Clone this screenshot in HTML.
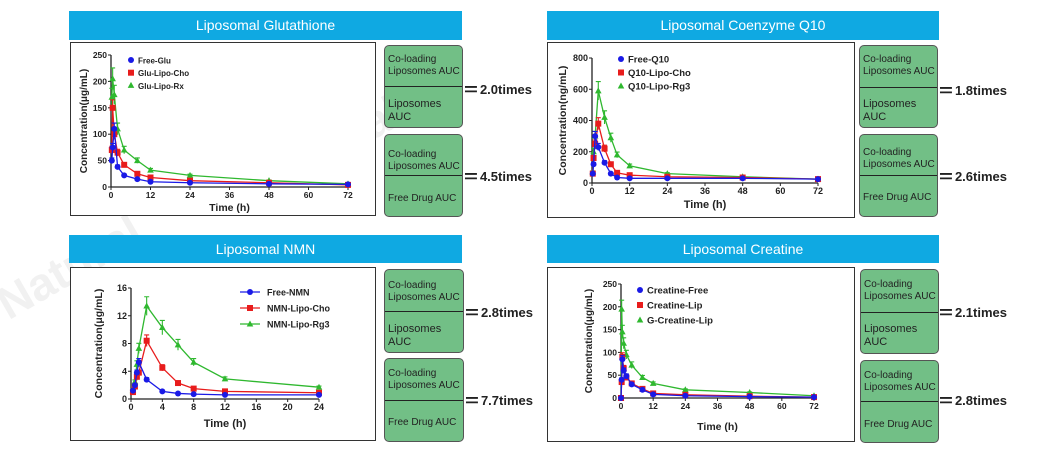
<!DOCTYPE html>
<html><head><meta charset="utf-8">
<style>
body{margin:0;width:1053px;height:451px;background:#fff;position:relative;overflow:hidden;font-family:"Liberation Sans",sans-serif}
.hdr{position:absolute;background:#0fa9e2;color:#fff;font-size:14px;text-align:center;line-height:29px}
.frame{position:absolute;border:1px solid #333;box-sizing:border-box;background:#fff}
.box{position:absolute;background:#72bf86;border:1px solid #555;border-radius:5px;box-sizing:border-box;font-size:10px;color:#222;line-height:12px}
.box .t{position:absolute;left:3px}
.box .d{position:absolute;left:0;right:0;height:0;border-top:1.5px solid #222}
.eq{position:absolute;font-weight:bold;font-size:13px;color:#222;white-space:nowrap}
.eq b{font-size:17px;display:inline-block;transform:scaleX(1.4);margin-right:4px;vertical-align:-1px}
.wm{position:absolute;color:rgba(200,200,200,0.25);font-size:46px;font-weight:bold;transform:rotate(-30deg)}
svg{position:absolute;left:0;top:0}
</style></head><body>
<div class="wm" style="left:250px;top:120px">Natural</div>
<div class="wm" style="left:700px;top:80px">Natural</div>
<div class="wm" style="left:-10px;top:240px">Natural</div>

<div class="hdr" style="left:69px;top:11px;width:393px;height:29px">Liposomal Glutathione</div>
<div class="hdr" style="left:547px;top:11px;width:392px;height:29px">Liposomal Coenzyme Q10</div>
<div class="hdr" style="left:69px;top:235px;width:393px;height:28px;line-height:28px">Liposomal NMN</div>
<div class="hdr" style="left:547px;top:235px;width:392px;height:28px;line-height:28px">Liposomal Creatine</div>

<div class="frame" style="left:70px;top:42px;width:306px;height:174px"></div>
<div class="frame" style="left:547px;top:42px;width:308px;height:176px"></div>
<div class="frame" style="left:70px;top:267px;width:306px;height:174px"></div>
<div class="frame" style="left:547px;top:267px;width:308px;height:175px"></div>

<div class="box" style="left:384px;top:45px;width:79px;height:83px"><div class="t" style="top:8px">Co-loading<br>Liposomes AUC</div><div class="d" style="top:40px"></div><div class="t" style="top:52px;font-size:11px;line-height:13px">Liposomes<br>AUC</div></div>
<div class="eq" style="left:466px;top:80px"><b>=</b>2.0times</div>
<div class="box" style="left:384px;top:134px;width:79px;height:83px"><div class="t" style="top:14px">Co-loading<br>Liposomes AUC</div><div class="d" style="top:40px"></div><div class="t" style="top:58px">Free Drug AUC</div></div>
<div class="eq" style="left:466px;top:167px"><b>=</b>4.5times</div>

<div class="box" style="left:859px;top:45px;width:79px;height:83px"><div class="t" style="top:8px">Co-loading<br>Liposomes AUC</div><div class="d" style="top:41px"></div><div class="t" style="top:52px;font-size:11px;line-height:13px">Liposomes<br>AUC</div></div>
<div class="eq" style="left:941px;top:81px"><b>=</b>1.8times</div>
<div class="box" style="left:859px;top:134px;width:79px;height:83px"><div class="t" style="top:12px">Co-loading<br>Liposomes AUC</div><div class="d" style="top:40px"></div><div class="t" style="top:57px">Free Drug AUC</div></div>
<div class="eq" style="left:941px;top:167px"><b>=</b>2.6times</div>

<div class="box" style="left:384px;top:269px;width:80px;height:84px"><div class="t" style="top:10px">Co-loading<br>Liposomes AUC</div><div class="d" style="top:41px"></div><div class="t" style="top:53px;font-size:11px;line-height:13px">Liposomes<br>AUC</div></div>
<div class="eq" style="left:467px;top:303px"><b>=</b>2.8times</div>
<div class="box" style="left:384px;top:358px;width:80px;height:84px"><div class="t" style="top:9px">Co-loading<br>Liposomes AUC</div><div class="d" style="top:41px"></div><div class="t" style="top:58px">Free Drug AUC</div></div>
<div class="eq" style="left:467px;top:391px"><b>=</b>7.7times</div>

<div class="box" style="left:860px;top:269px;width:79px;height:85px"><div class="t" style="top:9px">Co-loading<br>Liposomes AUC</div><div class="d" style="top:42px"></div><div class="t" style="top:53px;font-size:11px;line-height:13px">Liposomes<br>AUC</div></div>
<div class="eq" style="left:941px;top:303px"><b>=</b>2.1times</div>
<div class="box" style="left:860px;top:360px;width:79px;height:83px"><div class="t" style="top:9px">Co-loading<br>Liposomes AUC</div><div class="d" style="top:40px"></div><div class="t" style="top:58px">Free Drug AUC</div></div>
<div class="eq" style="left:941px;top:391px"><b>=</b>2.8times</div>

<svg id="chart" width="1053" height="451"></svg>

<script>
// Glutathione
const gluTimes=[0.25,0.5,1,2,4,8,12,24,48,72];
const gluFree=[50,75,110,38,22,15,10,8,6,5];
const gluCho=[70,150,100,65,42,25,18,12,8,4];
const gluRx=[170,205,175,110,70,50,32,22,12,6];
const gluXTicks=[0,12,24,36,48,60,72];
const gluYTicks=[0,50,100,150,200,250];
const gluNames=["Free-Glu","Glu-Lipo-Cho","Glu-Lipo-Rx"];
// Q10
const q10Times=[0.25,0.5,1,2,4,6,8,12,24,48,72];
const q10Free=[60,120,300,230,130,60,35,30,30,30,25];
const q10Cho=[60,160,250,380,220,120,65,50,40,35,25];
const q10Rg3=[70,200,300,590,420,290,180,110,60,40,25];
const q10XTicks=[0,12,24,36,48,60,72];
const q10YTicks=[0,200,400,600,800];
const q10Names=["Free-Q10","Q10-Lipo-Cho","Q10-Lipo-Rg3"];
// NMN
const nmnTimes=[0.25,0.5,0.75,1,2,4,6,8,12,24];
const nmnFree=[1.2,2,3.8,5.3,2.8,1.1,0.8,0.7,0.6,0.6];
const nmnCho=[1.0,1.8,3.2,3.8,8.4,4.5,2.3,1.5,1.1,0.9];
const nmnRg3=[1.2,2.5,5,7.3,13.4,10.3,7.8,5.3,2.9,1.7];
const nmnXTicks=[0,4,8,12,16,20,24];
const nmnYTicks=[0,4,8,12,16];
const nmnNames=["Free-NMN","NMN-Lipo-Cho","NMN-Lipo-Rg3"];
// Creatine
const crTimes=[0,0.25,0.5,1,2,4,8,12,24,48,72];
const crFree=[0,40,85,60,48,30,18,8,5,3,2];
const crLip=[0,35,90,65,45,32,20,10,7,4,2];
const crG=[0,195,145,120,95,72,45,32,18,12,5];
const crXTicks=[0,12,24,36,48,60,72];
const crYTicks=[0,50,100,150,200,250];
const crNames=["Creatine-Free","Creatine-Lip","G-Creatine-Lip"];

const colors=["#1a1ae6","#e81c1c","#2fb82f"];
const NS="http://www.w3.org/2000/svg";
const svg=document.getElementById('chart');
function mk(tag,attrs,parent){const e=document.createElementNS(NS,tag);for(const k in attrs)e.setAttribute(k,attrs[k]);(parent||svg).appendChild(e);return e;}
function marker(g,kind,x,y,c){
  let m;
  if(kind===0)m=mk('circle',{cx:x,cy:y,r:3,fill:c},g);
  else if(kind===1)m=mk('rect',{x:x-3,y:y-3,width:6,height:6,fill:c},g);
  else m=mk('polygon',{points:`${x},${y-3.5} ${x-3.3},${y+2.5} ${x+3.3},${y+2.5}`,fill:c},g);
  return m;
}
function chart(cfg){
  const g=mk('g',{});
  
  
  const xs=v=>cfg.x0+(v-cfg.xmin)/(cfg.xmax-cfg.xmin)*(cfg.x1-cfg.x0);
  const ys=v=>cfg.y0-(v)/(cfg.ymax)*(cfg.y0-cfg.y1);
  const ax=mk('path',{d:`M${cfg.x0},${cfg.y1}V${cfg.y0}H${cfg.x1}`,stroke:'#222','stroke-width':1.3,fill:'none'},g);
  
  
  cfg.yt.forEach(v=>{
    mk('line',{x1:cfg.x0-3,x2:cfg.x0,y1:ys(v),y2:ys(v),stroke:'#222'},g);
    const t=mk('text',{x:cfg.x0-4,y:ys(v)+3,'font-size':cfg.fs,'font-weight':'bold','text-anchor':'end',fill:'#222'},g);
    t.textContent=v;
    
    
  });
  cfg.xt.forEach(v=>{
    mk('line',{x1:xs(v),x2:xs(v),y1:cfg.y0,y2:cfg.y0+3,stroke:'#222'},g);
    const t=mk('text',{x:xs(v),y:cfg.y0+11,'font-size':cfg.fs,'font-weight':'bold','text-anchor':'middle',fill:'#222'},g);
    t.textContent=v;
    
    
  });
  const xt=mk('text',{x:(cfg.x0+cfg.x1)/2,y:cfg.xtY,'font-size':cfg.fs+2,'font-weight':'bold','text-anchor':'middle',fill:'#222'},g);
  xt.textContent='Time (h)';
  
  
  const yt=mk('text',{x:0,y:0,'font-size':cfg.fs+1.5,'font-weight':'bold','text-anchor':'middle',fill:'#222',transform:`translate(${cfg.ytX},${(cfg.y0+cfg.y1)/2}) rotate(-90)`},g);
  yt.textContent=cfg.ylabel;
  
  
  [2,1,0].forEach(i=>{
    const vals=cfg.series[i],c=colors[i];
    const sg=mk('g',{},g);
    
    
    const pts=cfg.t.map((tv,k)=>[xs(tv),ys(vals[k])]);
    mk('polyline',{points:pts.map(p=>p.join(',')).join(' '),fill:'none',stroke:c,'stroke-width':1.3},sg);
    cfg.t.forEach((tv,k)=>{
      const e=vals[k]*0.1;
      if(e>0){mk('path',{d:`M${xs(tv)},${ys(vals[k]+e)}V${ys(Math.max(0,vals[k]-e))}M${xs(tv)-2.5},${ys(vals[k]+e)}h5`,stroke:c,'stroke-width':1.1},sg);}
      const m=marker(sg,i,xs(tv),ys(vals[k]),c);
      
      
    });
  });
  cfg.names.forEach((n,i)=>{
    const y=cfg.lgY+i*cfg.lgDy;
    const lg=mk('g',{},g);
    
    
    if(cfg.lgLine)mk('line',{x1:cfg.lgX-10,x2:cfg.lgX+10,y1:y,y2:y,stroke:colors[i],'stroke-width':1.2},lg);
    marker(lg,i,cfg.lgX,y,colors[i]);
    const t=mk('text',{x:cfg.lgX+(cfg.lgLine?17:7),y:y+3.5,'font-size':cfg.lfs,'font-weight':'bold',fill:'#222'},lg);
    t.textContent=n;
  });
}
chart({name:'glutathione-chart',t:gluTimes,series:[gluFree,gluCho,gluRx],names:gluNames,xt:gluXTicks,yt:gluYTicks,
  x0:111,x1:348,xmin:0,xmax:72,y0:187,y1:55,ymax:250,fs:8.5,ylabel:'Concentration(μg/mL)',ytX:87,xtY:211,lgX:131,lgY:60,lgDy:12.7,lfs:8,lgLine:false});
chart({name:'q10-chart',t:q10Times,series:[q10Free,q10Cho,q10Rg3],names:q10Names,xt:q10XTicks,yt:q10YTicks,
  x0:592,x1:818,xmin:0,xmax:72,y0:183,y1:58,ymax:800,fs:9,ylabel:'Concentration(ng/mL)',ytX:566,xtY:208,lgX:621,lgY:59,lgDy:13.5,lfs:9.5,lgLine:false});
chart({name:'nmn-chart',t:nmnTimes,series:[nmnFree,nmnCho,nmnRg3],names:nmnNames,xt:nmnXTicks,yt:nmnYTicks,
  x0:131,x1:319,xmin:0,xmax:24,y0:399,y1:288,ymax:16,fs:9,ylabel:'Concentration(μg/mL)',ytX:102,xtY:427,lgX:250,lgY:292,lgDy:16,lfs:9,lgLine:true});
chart({name:'creatine-chart',t:crTimes,series:[crFree,crLip,crG],names:crNames,xt:crXTicks,yt:crYTicks,
  x0:621,x1:814,xmin:0,xmax:72,y0:398,y1:284,ymax:250,fs:8.5,ylabel:'Concentration(μg/mL)',ytX:592,xtY:430,lgX:640,lgY:290,lgDy:15,lfs:9.5,lgLine:false});
</script>
</body></html>
